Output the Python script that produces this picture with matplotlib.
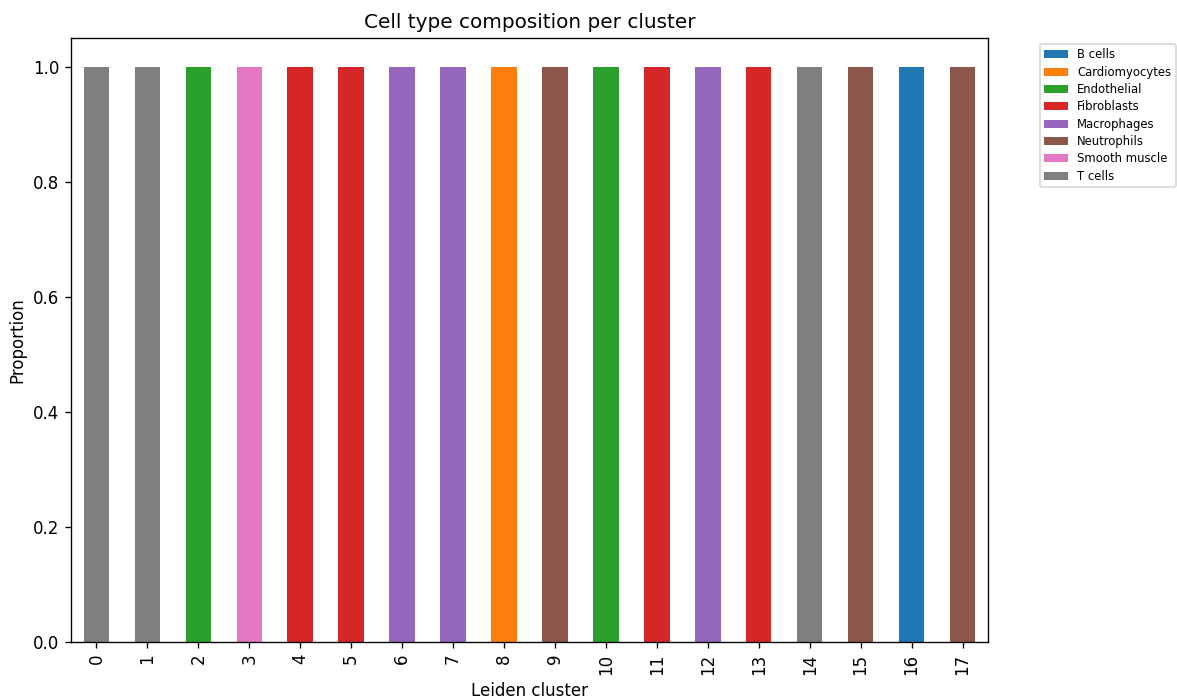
import matplotlib
matplotlib.use("Agg")
import matplotlib.pyplot as plt
import pandas as pd

# Cell types and the dominant type assigned to each Leiden cluster
cell_types = ["B cells", "Cardiomyocytes", "Endothelial", "Fibroblasts",
              "Macrophages", "Neutrophils", "Smooth muscle", "T cells"]
clusters = list(range(18))
cluster_type = ["T cells", "T cells", "Endothelial", "Smooth muscle",
                "Fibroblasts", "Fibroblasts", "Macrophages", "Macrophages",
                "Cardiomyocytes", "Neutrophils", "Endothelial", "Fibroblasts",
                "Macrophages", "Fibroblasts", "T cells", "Neutrophils",
                "B cells", "Neutrophils"]
cluster_fraction = [1.0] * 18

# Proportion table: rows = clusters, columns = cell types
table = pd.DataFrame(0.0, index=clusters, columns=cell_types)
for c, t, f in zip(clusters, cluster_type, cluster_fraction):
    table.loc[c, t] = f

DPI = 120
fig = plt.figure(figsize=(1177 / DPI, 698 / DPI), dpi=DPI)
ax = fig.add_axes([0.0603, 0.0802, 0.7791, 0.8654])
table.plot(kind="bar", stacked=True, ax=ax, legend=False)

ax.set_title("Cell type composition per cluster")
ax.set_xlabel("Leiden cluster")
ax.set_ylabel("Proportion")
ax.legend(bbox_to_anchor=(1.05, 1), loc="upper left", fontsize=7,
          labelspacing=0.37)

fig.savefig("out.png", dpi=DPI)
